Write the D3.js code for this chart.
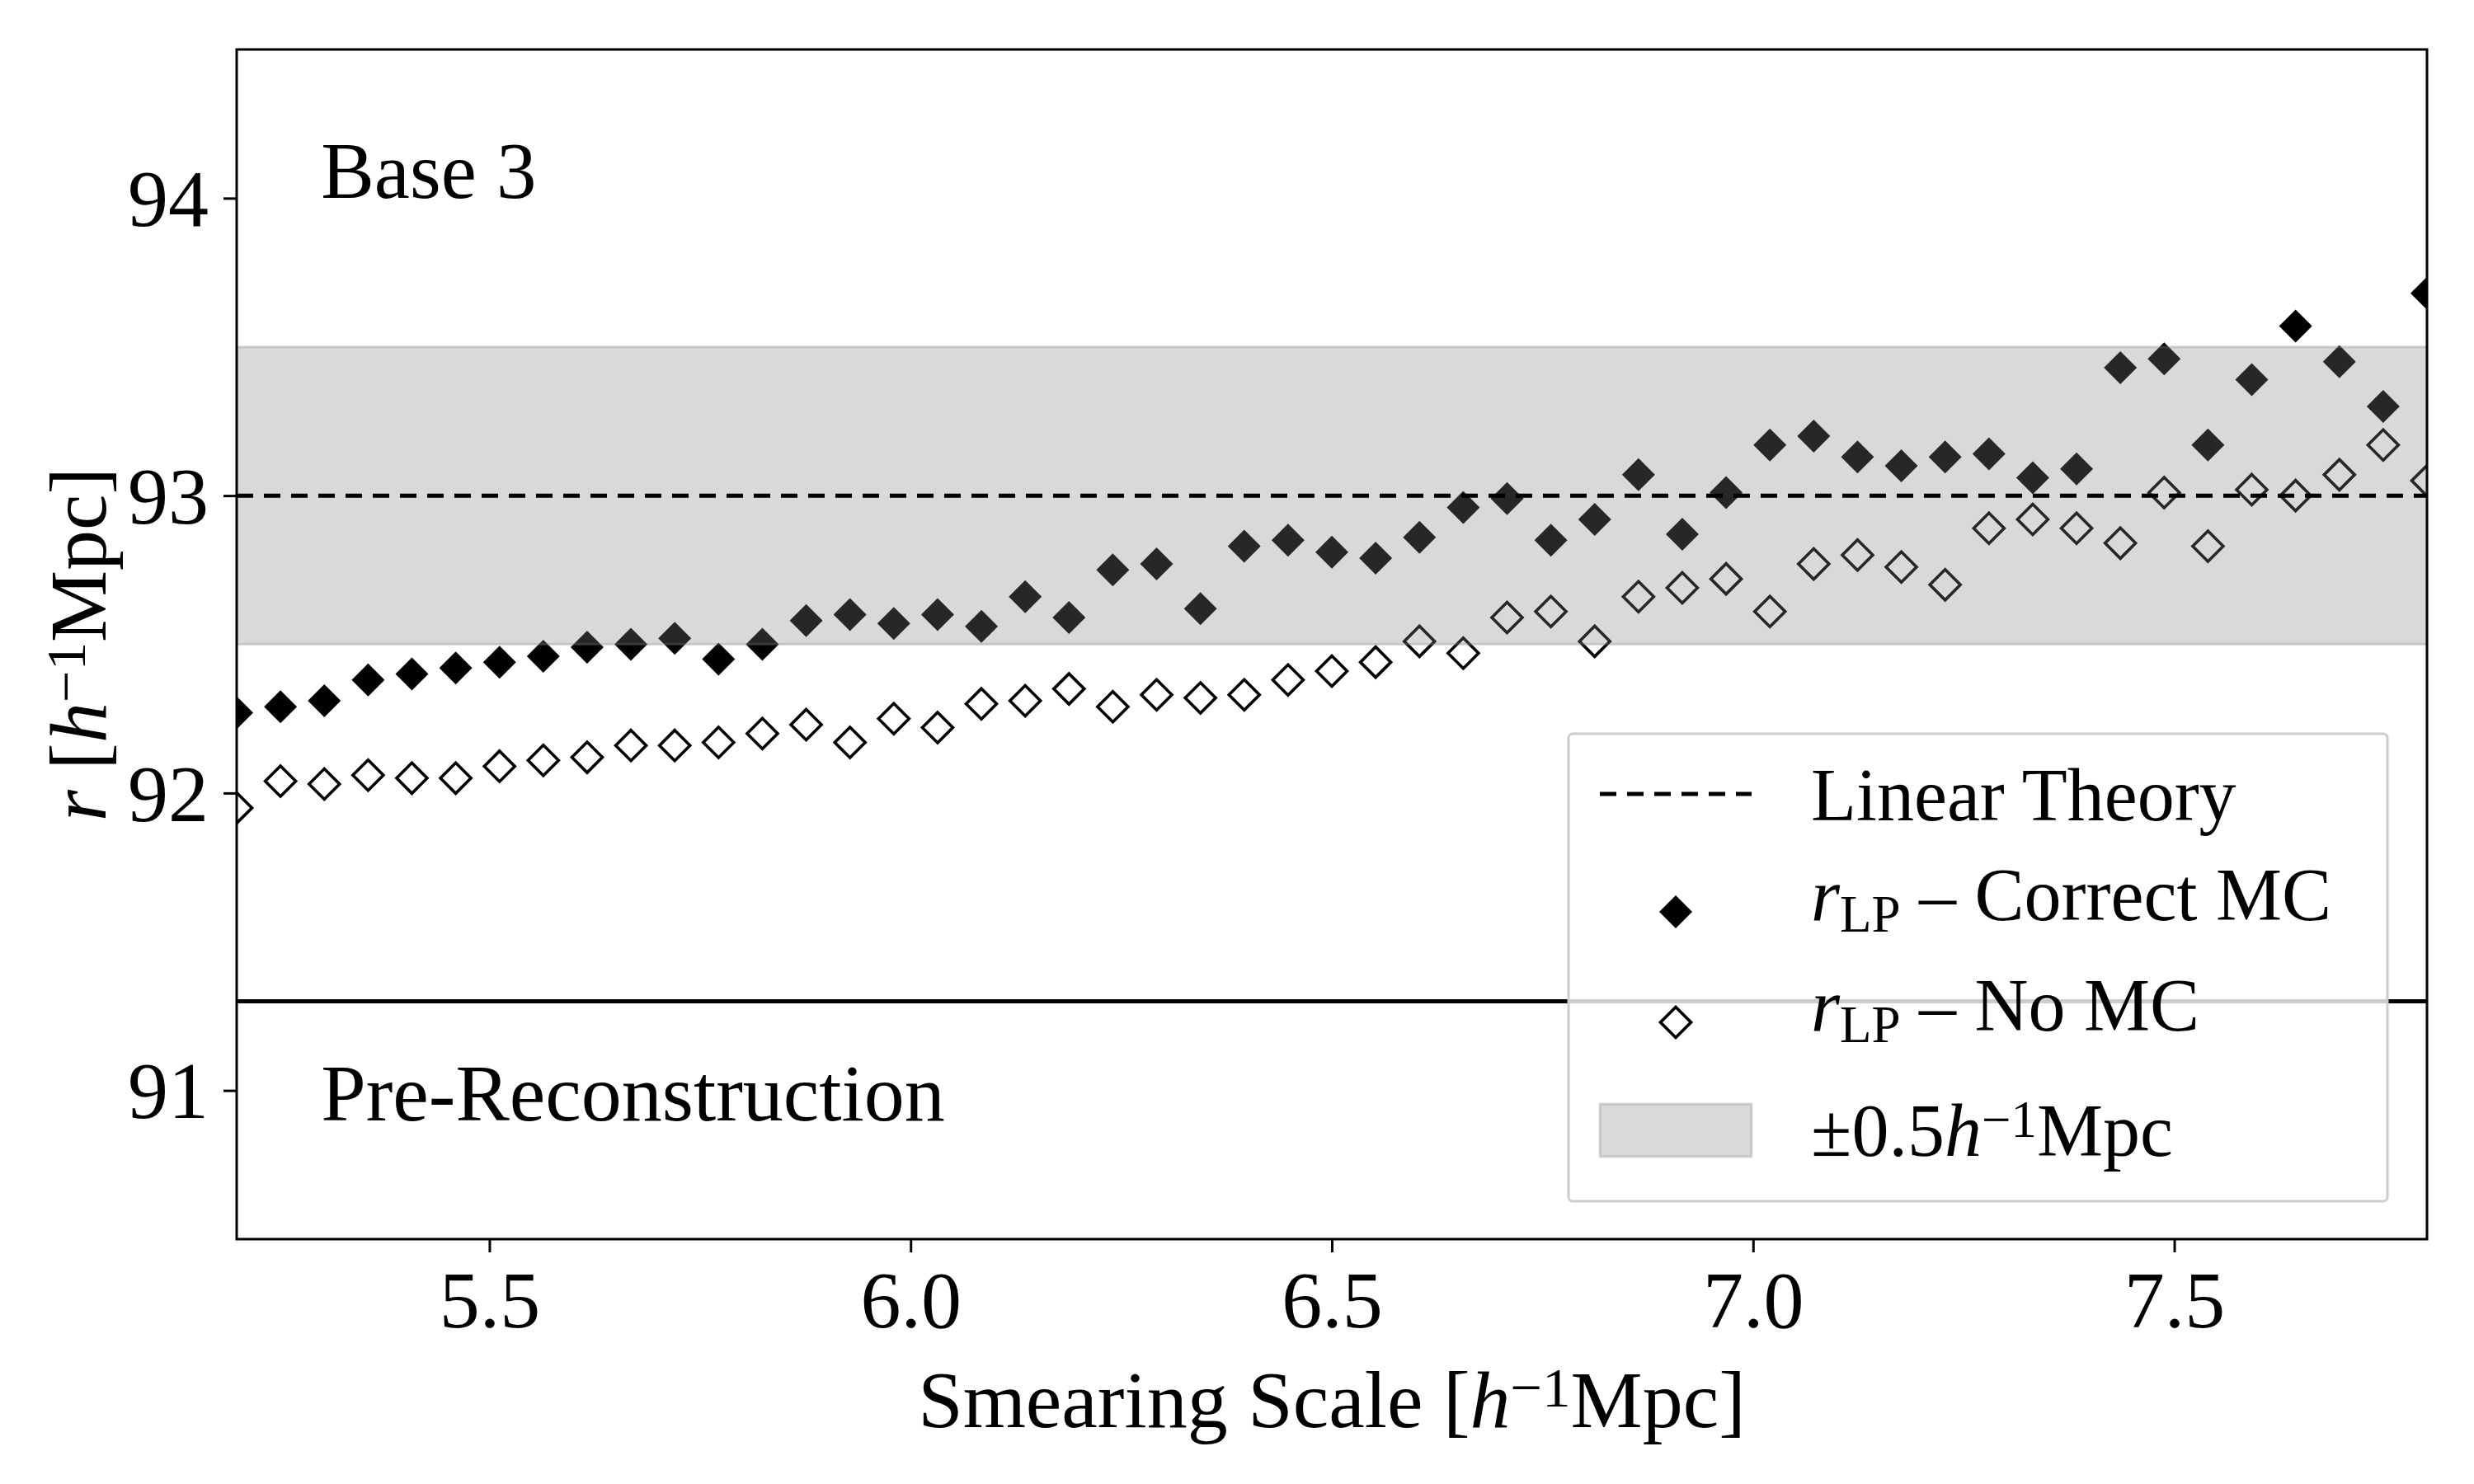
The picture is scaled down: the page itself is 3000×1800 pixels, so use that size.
<!DOCTYPE html>
<html>
<head>
<meta charset="utf-8">
<script src="https://cdn.jsdelivr.net/npm/d3@7"></script>
<style>
  body { margin: 0; background: #fff; }
  svg text { font-family: "Liberation Serif", "DejaVu Serif", serif; fill: #000; }
</style>
</head>
<body>
<div id="chart"></div>
<script>
const width = 3000, height = 1800;
const margin = {left: 287, right: 57, top: 60, bottom: 297};

// smearing scales (x)
const smearing = [5.200, 5.252, 5.304, 5.356, 5.408, 5.460, 5.512, 5.564, 5.616, 5.668,
  5.720, 5.772, 5.824, 5.876, 5.928, 5.980, 6.032, 6.084, 6.136, 6.188,
  6.240, 6.292, 6.344, 6.396, 6.448, 6.500, 6.552, 6.604, 6.656, 6.708,
  6.760, 6.812, 6.864, 6.916, 6.968, 7.020, 7.072, 7.124, 7.176, 7.228,
  7.280, 7.332, 7.384, 7.436, 7.488, 7.540, 7.592, 7.644, 7.696, 7.748, 7.800];

// r_LP with correct MC (filled diamonds)
const rCorrectMC = [92.27, 92.29, 92.31, 92.38, 92.40, 92.42, 92.44, 92.46, 92.49, 92.50,
  92.52, 92.45, 92.50, 92.58, 92.60, 92.57, 92.60, 92.56, 92.66, 92.59,
  92.75, 92.77, 92.62, 92.83, 92.85, 92.81, 92.79, 92.86, 92.96, 92.99,
  92.85, 92.92, 93.07, 92.87, 93.01, 93.17, 93.20, 93.13, 93.10, 93.13,
  93.14, 93.06, 93.09, 93.43, 93.46, 93.17, 93.39, 93.57, 93.45, 93.30, 93.68];

// r_LP without MC (open diamonds)
const rNoMC = [91.95, 92.04, 92.03, 92.06, 92.05, 92.05, 92.09, 92.11, 92.12, 92.16,
  92.16, 92.17, 92.20, 92.23, 92.17, 92.25, 92.22, 92.30, 92.31, 92.35,
  92.29, 92.33, 92.32, 92.33, 92.38, 92.41, 92.44, 92.51, 92.47, 92.59,
  92.61, 92.51, 92.66, 92.69, 92.72, 92.61, 92.77, 92.80, 92.76, 92.70,
  92.89, 92.92, 92.89, 92.84, 93.01, 92.83, 93.02, 93.00, 93.07, 93.17, 93.05];

const linearTheory = 93.0;
const bandHalf = 0.5;
const preRecon = 91.3;

const xTicks = [5.5, 6.0, 6.5, 7.0, 7.5];
const yTicks = [91, 92, 93, 94];
const legendLabels = ["Linear Theory", "Correct MC", "No MC", "band"];

const x = d3.scaleLinear().domain([5.2, 7.8]).range([margin.left, width - margin.right]);
const y = d3.scaleLinear().domain([90.5, 94.5]).range([height - margin.bottom, margin.top]);

const svg = d3.select("#chart").append("svg")
  .attr("width", width).attr("height", height);

svg.append("defs").append("clipPath").attr("id", "plotclip")
  .append("rect")
  .attr("x", x.range()[0]).attr("y", y.range()[1])
  .attr("width", x.range()[1] - x.range()[0])
  .attr("height", y.range()[0] - y.range()[1]);

// square diamond marker, like matplotlib 'D'
const diamondType = {
  draw(ctx, size) {
    const r = Math.sqrt(size) / 2;
    ctx.moveTo(0, -r); ctx.lineTo(r, 0); ctx.lineTo(0, r); ctx.lineTo(-r, 0); ctx.closePath();
  }
};
const diamond = d3.symbol().type(diamondType).size(40 * 40);
const diamondSmall = d3.symbol().type(diamondType).size(37 * 37);

const plot = svg.append("g").attr("clip-path", "url(#plotclip)");

// filled diamonds
plot.append("g").selectAll("path")
  .data(smearing.map((s, i) => [s, rCorrectMC[i]]))
  .enter().append("path")
  .attr("d", diamond)
  .attr("transform", d => `translate(${x(d[0])},${y(d[1])})`)
  .style("fill", "#000");

// open diamonds
plot.append("g").selectAll("path")
  .data(smearing.map((s, i) => [s, rNoMC[i]]))
  .enter().append("path")
  .attr("d", diamondSmall)
  .attr("transform", d => `translate(${x(d[0])},${y(d[1])})`)
  .style("fill", "#fff")
  .style("stroke", "#000")
  .style("stroke-width", 3.6);

// +-0.5 band (drawn over the markers, semi transparent)
plot.append("rect")
  .attr("x", x.range()[0] - 5)
  .attr("width", x.range()[1] - x.range()[0] + 10)
  .attr("y", y(linearTheory + bandHalf))
  .attr("height", y(linearTheory - bandHalf) - y(linearTheory + bandHalf))
  .style("fill", "gray").style("fill-opacity", 0.3)
  .style("stroke", "gray").style("stroke-opacity", 0.3).style("stroke-width", 3);

// linear theory dashed line
plot.append("line")
  .attr("x1", x.range()[0]).attr("x2", x.range()[1])
  .attr("y1", y(linearTheory)).attr("y2", y(linearTheory))
  .style("stroke", "#000").style("stroke-width", 5)
  .style("stroke-dasharray", "20,13");

// pre-reconstruction solid line
plot.append("line")
  .attr("x1", x.range()[0]).attr("x2", x.range()[1])
  .attr("y1", y(preRecon)).attr("y2", y(preRecon))
  .style("stroke", "#000").style("stroke-width", 5);

// axes
const xAxis = svg.append("g")
  .attr("transform", `translate(0,${y.range()[0]})`)
  .call(d3.axisBottom(x).tickValues(xTicks).tickFormat(d3.format(".1f")).tickSize(16).tickPadding(20));
const yAxis = svg.append("g")
  .attr("transform", `translate(${x.range()[0]},0)`)
  .call(d3.axisLeft(y).tickValues(yTicks).tickFormat(d3.format("d")).tickSize(16).tickPadding(18));

[xAxis, yAxis].forEach(a => {
  a.select(".domain").remove();
  a.selectAll(".tick line").style("stroke", "#000").style("stroke-width", 3);
  a.selectAll(".tick text").style("font-size", "98px")
    .style("font-family", '"Liberation Serif", serif');
});
xAxis.selectAll(".tick text").attr("dy", "0.72em");
yAxis.selectAll(".tick text").attr("dy", "0.34em");

// frame
svg.append("rect")
  .attr("x", x.range()[0]).attr("y", y.range()[1])
  .attr("width", x.range()[1] - x.range()[0])
  .attr("height", y.range()[0] - y.range()[1])
  .style("fill", "none").style("stroke", "#000").style("stroke-width", 3);

// helper for "[h^-1 Mpc]" style text
function unitText(sel) {
  sel.append("tspan").text("[");
  sel.append("tspan").style("font-style", "italic").text("h");
  sel.append("tspan").attr("baseline-shift", "36%").style("font-size", "70%").text("\u22121");
  sel.append("tspan").text("Mpc]");
}

// x label
const xl = svg.append("text")
  .attr("x", (x.range()[0] + x.range()[1]) / 2)
  .attr("y", 1731)
  .attr("text-anchor", "middle")
  .style("font-size", "98px");
xl.append("tspan").text("Smearing Scale ");
unitText(xl);

// y label
const yl = svg.append("text")
  .attr("transform", `translate(128,${(y.range()[0] + y.range()[1]) / 2}) rotate(-90)`)
  .attr("text-anchor", "middle")
  .style("font-size", "98px");
yl.append("tspan").style("font-style", "italic").text("r");
yl.append("tspan").text(" ");
unitText(yl);

// annotations
svg.append("text")
  .attr("x", x(5.3)).attr("y", y(94.0))
  .style("font-size", "97px").text("Base 3");
svg.append("text")
  .attr("x", x(5.3)).attr("y", y(90.9))
  .style("font-size", "98px").text("Pre-Reconstruction");

// legend
const lg = svg.append("g");
lg.append("rect")
  .attr("x", 1902).attr("y", 890).attr("width", 993).attr("height", 567)
  .attr("rx", 5)
  .style("fill", "#fff").style("fill-opacity", 0.8)
  .style("stroke", "#ccc").style("stroke-width", 3);

const hx0 = 1940, hx1 = 2124, tx = 2196;
const rows = [963, 1106, 1240, 1371];
const lfs = "90px";

lg.append("line")
  .attr("x1", hx0).attr("x2", hx1).attr("y1", rows[0]).attr("y2", rows[0])
  .style("stroke", "#000").style("stroke-width", 5).style("stroke-dasharray", "20,13");
lg.append("text").attr("x", tx).attr("y", rows[0] + 32).style("font-size", lfs).text(legendLabels[0]);

lg.append("path").attr("d", diamond)
  .attr("transform", `translate(${(hx0 + hx1) / 2},${rows[1]})`)
  .style("fill", "#000");
lg.append("path").attr("d", diamondSmall)
  .attr("transform", `translate(${(hx0 + hx1) / 2},${rows[2]})`)
  .style("fill", "#fff").style("stroke", "#000").style("stroke-width", 3.6);

[1, 2].forEach(k => {
  const t = lg.append("text").attr("x", tx).attr("y", rows[k] + 10).style("font-size", lfs);
  t.append("tspan").style("font-style", "italic").text("r");
  t.append("tspan").attr("baseline-shift", "-22%").style("font-size", "70%").text("LP");
  t.append("tspan").text(" \u2013 " + legendLabels[k]);
});

lg.append("rect")
  .attr("x", hx0).attr("y", rows[3] - 32).attr("width", hx1 - hx0).attr("height", 64)
  .style("fill", "gray").style("fill-opacity", 0.3)
  .style("stroke", "gray").style("stroke-opacity", 0.3).style("stroke-width", 3);
const bt = lg.append("text").attr("x", tx).attr("y", rows[3] + 31).style("font-size", lfs);
bt.append("tspan").text("\u00b10.5");
bt.append("tspan").style("font-style", "italic").text("h");
bt.append("tspan").attr("baseline-shift", "36%").style("font-size", "70%").text("\u22121");
bt.append("tspan").text("Mpc");
</script>
</body>
</html>
